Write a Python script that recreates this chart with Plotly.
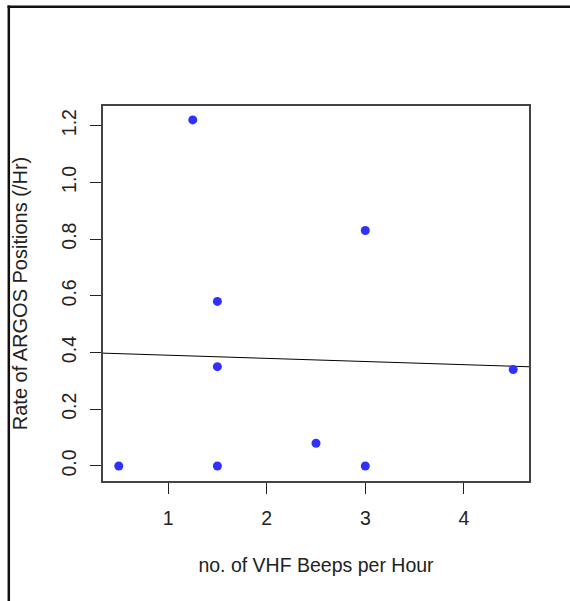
import numpy as np
import plotly.graph_objects as go

# Data
vhf_beeps = [0.5, 1.25, 1.5, 1.5, 1.5, 2.5, 3.0, 3.0, 4.5]
argos_rate = [0.0, 1.22, 0.58, 0.35, 0.0, 0.08, 0.83, 0.0, 0.34]
x_ticks = [1, 2, 3, 4]
y_ticks = [0.0, 0.2, 0.4, 0.6, 0.8, 1.0, 1.2]
y_tick_text = ["0.0", "0.2", "0.4", "0.6", "0.8", "1.0", "1.2"]

x_range = [0.34, 4.66]
y_range = [-0.053, 1.269]

# linear regression (abline of lm fit)
slope, intercept = np.polyfit(vhf_beeps, argos_rate, 1)
line_x = x_range
line_y = [intercept + slope * v for v in line_x]

W, H = 570, 601
L, R, T, B = 103, 529, 106, 481

FONT = "Liberation Sans, Arial, sans-serif"
TXT = "#222222"
FS = 19.5

fig = go.Figure()
fig.add_trace(go.Scatter(x=line_x, y=line_y, mode="lines",
                         line=dict(color="black", width=1), hoverinfo="skip",
                         showlegend=False, cliponaxis=True))
fig.add_trace(go.Scatter(x=vhf_beeps, y=argos_rate, mode="markers",
                         marker=dict(color="#3030ff", size=9, line=dict(width=0)),
                         showlegend=False, cliponaxis=False))

pw, ph = R - L, B - T
def px(xp):
    return (xp - L) / pw
def py(yp):
    return (B - yp) / ph

# outer screenshot frame (top and left edges)
fig.add_shape(type="line", xref="paper", yref="paper",
              x0=px(7.5), x1=px(580), y0=py(6.8), y1=py(6.8),
              line=dict(color="#111111", width=2.5))
fig.add_shape(type="line", xref="paper", yref="paper",
              x0=px(8.8), x1=px(8.8), y0=py(5.6), y1=py(620),
              line=dict(color="#111111", width=2.5))

axis_common = dict(showgrid=False, zeroline=False, showline=True, mirror=True,
                   linecolor="#444444", linewidth=1.5, ticks="outside", ticklen=11,
                   tickwidth=1, tickcolor="#222222",
                   tickfont=dict(family=FONT, size=FS, color=TXT))

fig.update_layout(
    width=W, height=H,
    margin=dict(l=L, r=W - R, t=T, b=H - B, pad=0),
    paper_bgcolor="white", plot_bgcolor="white",
    xaxis=dict(range=x_range, tickvals=x_ticks, ticktext=[str(v) for v in x_ticks],
               ticklabelstandoff=8,
               title=dict(text="no. of VHF Beeps per Hour", standoff=30,
                          font=dict(family=FONT, size=FS, color=TXT)),
               **axis_common),
    yaxis=dict(range=y_range, tickvals=y_ticks, ticktext=y_tick_text, tickangle=-90,
               ticklabelstandoff=6,
               title=dict(text="Rate of ARGOS Positions (/Hr)", standoff=25,
                          font=dict(family=FONT, size=FS + 0.5, color=TXT)),
               **axis_common),
)

fig.write_html("out.html", config={"displayModeBar": False},
               post_script="document.body.style.margin='0';document.body.style.padding='0';")
